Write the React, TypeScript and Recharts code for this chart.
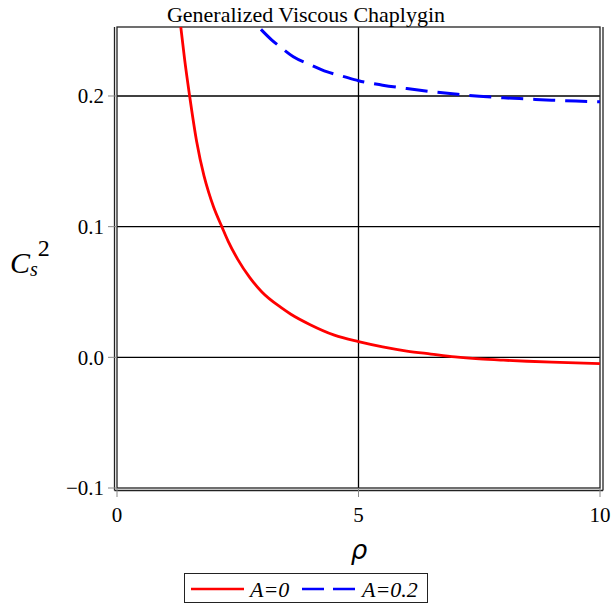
import React from 'react';
import * as R from 'recharts';
import { LineChart, Line, XAxis, YAxis, CartesianGrid, Legend, Label } from 'recharts';

const rhoA0 = [1.32, 1.4, 1.5, 1.65, 1.8, 1.9, 2.0, 2.17, 2.3, 2.5, 2.75, 3.0, 3.4, 3.6, 4.0, 4.5, 5.0, 5.5, 6.0, 6.5, 7.0, 7.5, 8.0, 8.5, 9.0, 9.5, 10];
const csA0 = [0.253, 0.228, 0.201, 0.165, 0.139, 0.126, 0.115, 0.1, 0.089, 0.075, 0.061, 0.05, 0.038, 0.033, 0.025, 0.017, 0.012, 0.008, 0.0048, 0.0025, 0.0003, -0.0012, -0.0022, -0.003, -0.0037, -0.0043, -0.0048];
const rhoA02 = [2.98, 3.2, 3.4, 3.65, 4.0, 4.34, 4.7, 5.0, 5.5, 6.0, 6.5, 7.0, 7.5, 8.0, 8.5, 9.0, 9.5, 10];
const csA02 = [0.251, 0.243, 0.237, 0.23, 0.224, 0.2186, 0.2148, 0.2117, 0.2083, 0.2057, 0.2034, 0.2015, 0.1998, 0.1986, 0.1977, 0.1968, 0.1961, 0.1956];
const xTicks = [0, 5, 10];
const yTicks = [-0.1, 0, 0.1, 0.2];
const seriesNames = ['A=0', 'A=0.2'];
const title = 'Generalized Viscous Chaplygin';

const dataA0 = rhoA0.map((r, i) => ({ rho: r, cs: csA0[i] }));
const dataA02 = rhoA02.map((r, i) => ({ rho: r, cs: csA02[i] }));

const serif = '"Liberation Serif", "DejaVu Serif", serif';

const fmtY = (v: number) => (v < 0 ? '\u2212' + Math.abs(v).toFixed(1) : v.toFixed(1));

const Frame = () => {
  const usePA = (R as any).usePlotArea;
  const pa = usePA ? usePA() : null;
  if (!pa) return null;
  const { x, y, width, height } = pa;
  return (
    <g>
      <rect x={x} y={y} width={width} height={height} fill="none" stroke="#222" strokeWidth={1.3} />
      <line x1={x - 2.5} y1={y} x2={x - 2.5} y2={y + height + 2.5} stroke="#222" strokeWidth={1.3} />
      <line x1={x - 2.5} y1={y + height + 2.5} x2={x + width + 3} y2={y + height + 2.5} stroke="#222" strokeWidth={1.3} />
      <line x1={x + width + 3} y1={y} x2={x + width + 3} y2={y + height + 2.5} stroke="#222" strokeWidth={1.3} />
      <text x={306} y={22} textAnchor="middle" fontFamily={serif} fontSize={22} fill="#000">{title}</text>
    </g>
  );
};

const LegendContent = () => (
  <div style={{ border: '1.3px solid #222', width: 244, height: 30, boxSizing: 'border-box', background: '#fff' }}>
    <svg width={244} height={30}>
      <line x1={6} y1={15} x2={59} y2={15} stroke="#ff0000" strokeWidth={2.5} />
      <text x={65} y={23} fontFamily={serif} fontStyle="italic" fontSize={22} fill="#000">{seriesNames[0]}</text>
      <line x1={117} y1={15} x2={170} y2={15} stroke="#0000ff" strokeWidth={2.5} strokeDasharray="22 9" />
      <text x={177} y={23} fontFamily={serif} fontStyle="italic" fontSize={22} fill="#000">{seriesNames[1]}</text>
    </svg>
  </div>
);

const YLabel = () => (
  <text x={10} y={273} fontFamily={serif} fill="#000">
    <tspan fontStyle="italic" fontSize={30}>C</tspan>
    <tspan fontStyle="italic" fontSize={20} dy={3}>s</tspan>
    <tspan fontSize={24} dy={-20}>2</tspan>
  </text>
);

const XLabel = () => (
  <text x={359} y={559} textAnchor="middle" fontFamily='"DejaVu Sans", sans-serif' fontStyle="italic" fontSize={26} fill="#000">ρ</text>
);

export default function App() {
  return (
    <div style={{ position: 'absolute', left: 0, top: 0, width: 613, height: 605, background: '#fff' }}>
      <LineChart width={613} height={605} margin={{ top: 27, right: 13, bottom: 57, left: 0 }}>
        <CartesianGrid stroke="#000" strokeWidth={1.3} horizontalValues={[0, 0.1, 0.2]} verticalValues={[5]} fill="none" />
        <XAxis
          type="number"
          dataKey="rho"
          domain={[0, 10]}
          ticks={xTicks}
          allowDataOverflow
          height={60}
          tickSize={9}
          tickMargin={10}
          axisLine={false}
          tickLine={{ stroke: '#888' }}
          tick={{ fontFamily: serif, fontSize: 21, fill: '#000' }}
        >
          <Label content={<XLabel />} />
        </XAxis>
        <YAxis
          type="number"
          dataKey="cs"
          domain={[-0.1, 0.2528]}
          ticks={yTicks}
          allowDataOverflow
          width={117}
          tickSize={9}
          tickMargin={4}
          axisLine={false}
          tickLine={{ stroke: '#888' }}
          tickFormatter={fmtY}
          tick={{ fontFamily: serif, fontSize: 21, fill: '#000' }}
        >
          <Label content={<YLabel />} />
        </YAxis>
        <Legend
          layout="vertical"
          align="center"
          verticalAlign="middle"
          content={<LegendContent />}
          wrapperStyle={{ top: 573, left: 184, width: 244, height: 30 }}
        />
        <Line data={dataA0} dataKey="cs" name={seriesNames[0]} type="monotone" stroke="#ff0000" strokeWidth={2.8} dot={false} isAnimationActive={false} />
        <Line data={dataA02} dataKey="cs" name={seriesNames[1]} type="monotone" stroke="#0000ff" strokeWidth={3} strokeDasharray="22 10" dot={false} isAnimationActive={false} />
        <Frame />
      </LineChart>
    </div>
  );
}
